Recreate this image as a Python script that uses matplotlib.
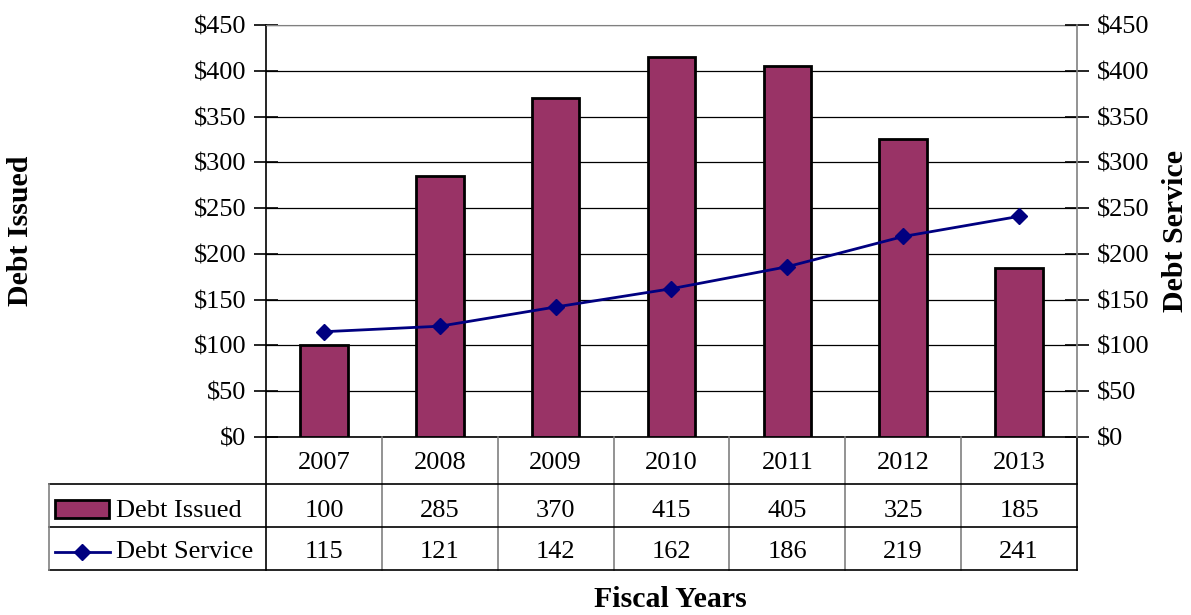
import matplotlib
matplotlib.use("Agg")
import matplotlib.pyplot as plt
from matplotlib.lines import Line2D
from matplotlib.patches import Rectangle
import matplotlib.transforms as mtransforms

years = ["2007", "2008", "2009", "2010", "2011", "2012", "2013"]
debt_issued = [100, 285, 370, 415, 405, 325, 185]
debt_service = [115, 121, 142, 162, 186, 219, 241]
y_ticks = [0, 50, 100, 150, 200, 250, 300, 350, 400, 450]

plt.rcParams["font.family"] = ["Liberation Serif", "DejaVu Serif"]
FS = 19
TITLE_FS = 21.5
BAR_COLOR = "#993366"
LINE_COLOR = "#000080"
GRAY = "#808080"

fig = plt.figure(figsize=(11.91, 6.15), dpi=100)
ax = fig.add_axes([266 / 1191, 1 - 437 / 615, 811 / 1191, 412 / 615])
ax2 = ax.twinx()

x = list(range(len(years)))
ax.bar(x, debt_issued, width=0.41, color=BAR_COLOR, edgecolor="black",
       linewidth=2, zorder=3)
ax2.plot(x, debt_service, color=LINE_COLOR, linewidth=2, marker="D",
         markersize=8, zorder=4)

for a in (ax, ax2):
    a.set_xlim(-0.5, len(years) - 0.5)
    a.set_ylim(0, 450)
    a.set_yticks(y_ticks)
    a.set_yticklabels([f"${v}" for v in y_ticks])
    a.tick_params(axis="y", direction="inout", length=17, width=1.2,
                  labelsize=FS, pad=5.5)
ax.set_xticks([])
ax2.set_xticks([])
ax.grid(axis="y", color="black", linewidth=0.9, zorder=0)
ax.set_axisbelow(True)

ax.spines["top"].set_color(GRAY)
ax.spines["left"].set_linewidth(1.2)
ax.spines["bottom"].set_linewidth(1.2)
ax.spines["right"].set_visible(False)
ax2.spines["right"].set_color(GRAY)
ax2.spines["right"].set_linewidth(1.2)
for s in ("top", "left", "bottom"):
    ax2.spines[s].set_visible(False)

ax.set_ylabel("Debt Issued", fontsize=TITLE_FS, fontweight="bold", labelpad=0)
ax.yaxis.set_label_coords((34 - 266) / 811, 0.5)
ax2.set_ylabel("Debt Service", fontsize=TITLE_FS, fontweight="bold",
               rotation=90, labelpad=0)
ax2.yaxis.set_label_coords((1162 - 266) / 811, 0.5)

# Data table beneath the plot: x in data units, y in axes units
trans = mtransforms.blended_transform_factory(ax.transData, ax.transAxes)
axes_tr = ax.transAxes
h = 412.0
r1, r2, r3 = -47 / h, -90 / h, -133 / h
base_year, base_issued, base_service = -32 / h, -80 / h, -121 / h
left_edge = (49 - 266) / 811.0

def add_line(xs, ys, tr, color="black", lw=1.2):
    ax.add_line(Line2D(xs, ys, transform=tr, color=color, linewidth=lw,
                       clip_on=False, zorder=5))

for i in range(len(years) + 1):
    xb = i - 0.5
    add_line([xb, xb], [0, r3], trans,
             color=GRAY if 0 < i < len(years) else "black")
for yy in (r1, r2, r3):
    add_line([left_edge, 1.0], [yy, yy], axes_tr)
add_line([left_edge, left_edge], [r1, r3], axes_tr, color=GRAY)

for i, yr in enumerate(years):
    ax.text(i, base_year, yr, transform=trans, ha="center", va="baseline",
            fontsize=FS)
    ax.text(i, base_issued, str(debt_issued[i]), transform=trans,
            ha="center", va="baseline", fontsize=FS)
    ax.text(i, base_service, str(debt_service[i]), transform=trans,
            ha="center", va="baseline", fontsize=FS)

# Legend keys inside the table's first column
px = lambda p: (p - 266) / 811.0
py = lambda p: (437 - p) / h
ax.add_patch(Rectangle((px(55), py(518)), px(109) - px(55), 18 / h,
                       transform=axes_tr, facecolor=BAR_COLOR,
                       edgecolor="black", linewidth=2, clip_on=False,
                       zorder=6))
ax.add_line(Line2D([px(55), px(110)], [py(552)] * 2, transform=axes_tr,
                   color=LINE_COLOR, linewidth=2, clip_on=False, zorder=6))
ax.add_line(Line2D([px(82)], [py(552)], transform=axes_tr,
                   color=LINE_COLOR, marker="D", markersize=8,
                   clip_on=False, zorder=7))
ax.text(px(116), base_issued, "Debt Issued", transform=axes_tr,
        ha="left", va="baseline", fontsize=FS)
ax.text(px(116), base_service, "Debt Service", transform=axes_tr,
        ha="left", va="baseline", fontsize=FS)

fig.text(670 / 1191, 1 - 607 / 615, "Fiscal Years", ha="center",
         va="baseline", fontsize=TITLE_FS, fontweight="bold")

fig.savefig("out.png", dpi=100)
